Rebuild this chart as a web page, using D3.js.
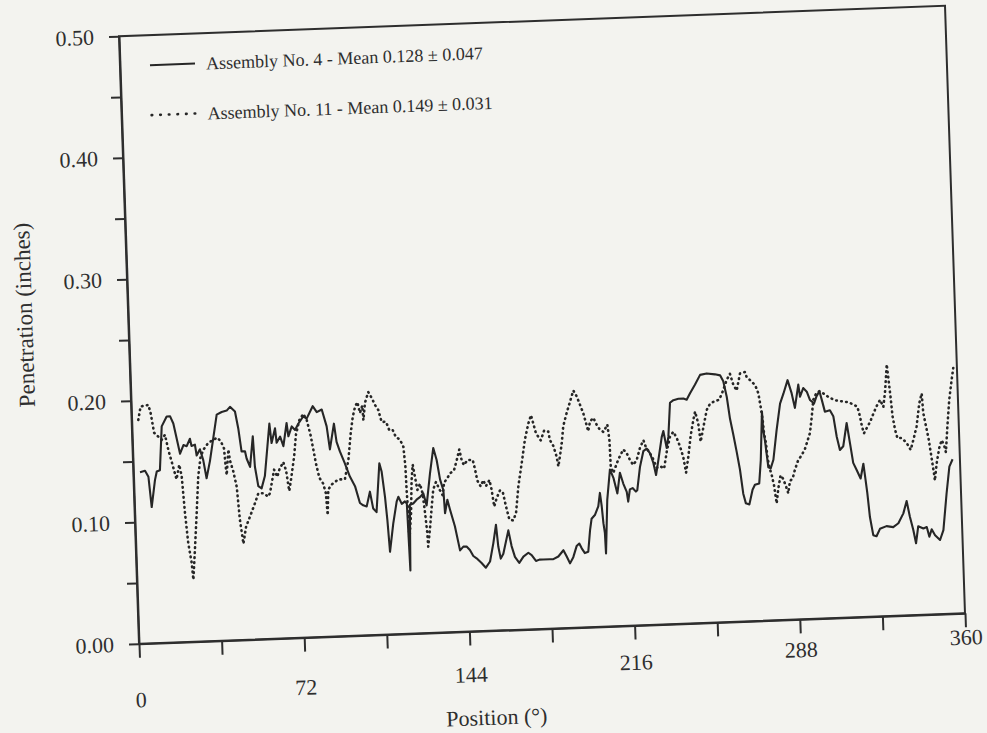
<!DOCTYPE html>
<html>
<head>
<meta charset="utf-8">
<script src="https://cdn.jsdelivr.net/npm/d3@7"></script>
<style>
  body { margin: 0; background: #f2f2ee; }
  svg { display: block; }
  text { font-family: "Liberation Serif", "Times New Roman", serif; fill: #2e2e2e; }
  .axis path, .axis line { stroke: #2e2e2e; stroke-width: 2; }
</style>
</head>
<body>
<script>
// Assembly No. 4 (solid line): position in degrees, penetration in inches
var pos4 = [2.9,5.1,6.5,7.5,9.3,10.2,11.6,13.0,15.3,16.8,18.1,19.3,20.6,22.2,23.6,25.1,25.7,27.2,27.8,29.3,
  30.6,31.8,33.5,35.3,37.1,39.3,41.5,43.0,45.1,46.3,47.4,48.9,49.5,50.9,52.5,53.0,54.2,55.6,57.2,59.9,
  60.6,62.3,62.8,64.4,65.7,67.4,68.0,69.6,71.0,72.5,74.8,76.2,79.0,80.7,82.9,84.8,85.9,88.0,88.9,90.2,
  92.2,92.9,94.2,96.3,98.2,99.6,101.1,102.7,103.9,105.3,107.2,108.1,109.2,109.9,110.6,112.4,114.2,115.0,116.4,117.8,
  118.6,119.2,119.9,121.4,122.9,124.4,125.9,127.2,129.1,130.9,132.2,133.4,134.7,135.1,136.3,137.3,139.2,141.1,142.6,144.0,
  145.4,146.8,148.2,150.3,152.1,154.0,155.7,157.1,157.8,158.7,159.9,162.4,163.6,164.9,166.7,168.6,170.8,172.2,174.0,175.5,
  177.2,180.1,181.6,183.8,186.1,187.4,188.8,190.3,191.9,193.1,194.1,195.4,196.9,198.0,198.8,200.3,201.9,202.8,203.4,203.9,
  204.4,204.6,205.9,207.5,208.9,210.4,211.8,213.1,214.5,215.0,215.9,217.1,218.5,219.1,220.6,222.3,223.8,225.2,226.5,227.5,
  228.7,230.5,231.3,232.5,233.4,234.6,236.1,238.3,240.5,241.9,243.4,245.7,248.1,251.0,254.6,256.8,258.1,259.4,260.5,261.7,
  262.9,264.1,265.2,266.2,267.7,269.3,270.4,272.3,273.3,274.5,274.8,275.4,276.5,277.5,278.8,280.6,282.5,284.1,286.1,287.7,
  288.9,290.7,291.3,292.8,294.3,295.6,297.3,298.5,299.8,300.7,301.9,304.1,305.5,306.7,307.9,309.4,311.2,312.4,313.5,314.9,
  316.5,317.9,318.4,319.2,320.0,321.2,322.6,324.2,327.1,330.0,332.3,334.6,336.2,337.4,338.7,339.7,340.9,343.1,344.6,345.6,
  346.7,348.1,350.2,351.8,353.7,355.3,356.8];
var pen4 = [.141,.142,.137,.112,.134,.141,.142,.178,.186,.186,.180,.168,.155,.162,.161,.167,.161,.162,.153,.158,
  .149,.134,.148,.167,.186,.188,.189,.192,.188,.174,.155,.155,.149,.142,.167,.142,.126,.124,.134,.177,
  .161,.173,.161,.166,.158,.177,.166,.174,.171,.176,.182,.180,.190,.185,.187,.173,.154,.175,.160,.152,
  .142,.138,.131,.123,.109,.107,.106,.118,.104,.101,.141,.134,.113,.094,.068,.091,.109,.113,.107,.109,
  .107,.052,.106,.107,.110,.112,.115,.105,.131,.152,.142,.126,.117,.098,.109,.101,.087,.067,.070,.070,
  .067,.062,.060,.056,.052,.057,.072,.087,.069,.059,.063,.082,.069,.060,.055,.060,.063,.061,.056,.057,
  .057,.057,.057,.059,.064,.059,.053,.058,.067,.069,.065,.061,.062,.080,.089,.092,.099,.110,.099,.085,
  .077,.060,.104,.129,.122,.109,.126,.117,.110,.102,.112,.113,.110,.111,.130,.143,.145,.141,.133,.123,
  .135,.154,.159,.145,.154,.182,.184,.185,.185,.184,.189,.196,.204,.205,.204,.203,.198,.185,.167,.154,
  .140,.125,.105,.097,.096,.108,.112,.113,.132,.172,.157,.148,.126,.125,.132,.156,.178,.186,.197,.186,
  .174,.193,.183,.190,.187,.180,.177,.183,.187,.180,.170,.171,.166,.149,.138,.141,.160,.143,.127,.121,
  .114,.126,.117,.102,.082,.067,.066,.072,.074,.073,.076,.084,.094,.081,.070,.059,.073,.071,.072,.064,
  .070,.065,.061,.069,.099,.121,.127];

// Assembly No. 11 (dotted line)
var pos11 = [2.9,4.1,7.5,8.4,9.6,12.8,14.3,15.6,16.8,18.7,20.1,21.0,21.9,22.9,24.1,24.6,25.8,27.0,28.2,29.5,
  31.0,33.0,35.0,37.0,38.5,39.8,40.3,40.6,41.7,42.2,43.5,44.8,45.7,46.9,48.3,50.1,52.5,54.1,56.3,58.4,
  59.2,61.3,62.6,63.6,65.4,66.5,67.6,68.5,70.2,71.3,73.0,74.8,76.2,77.7,78.7,79.6,80.9,82.5,83.5,84.0,
  84.6,86.1,89.1,92.0,92.9,93.8,95.2,96.3,97.4,98.5,99.5,100.6,100.9,101.8,103.4,104.8,106.2,107.5,108.8,110.7,
  112.0,113.5,114.8,116.5,117.9,118.5,118.7,119.1,119.2,120.3,121.0,121.7,122.5,123.4,124.6,125.6,126.4,127.1,127.3,128.4,
  129.4,130.3,131.6,133.2,134.3,135.1,136.6,138.1,139.6,140.9,142.2,143.1,144.0,145.6,147.9,148.8,149.6,151.0,152.2,153.3,
  154.9,155.7,156.6,157.8,159.3,160.5,161.7,163.0,164.7,166.0,167.4,169.2,170.9,172.6,173.9,174.8,175.8,177.8,179.4,181.2,
  181.8,183.2,184.5,185.1,185.9,186.9,187.8,189.5,191.1,192.7,194.1,195.4,196.7,198.0,198.6,199.5,201.0,202.4,203.7,205.2,
  207.0,207.7,207.9,208.9,211.3,213.6,215.0,216.4,217.7,219.3,220.9,222.5,223.5,224.9,226.3,227.9,229.6,231.1,232.5,234.1,
  235.6,237.0,238.3,239.6,240.6,241.8,243.1,244.5,245.4,246.6,247.4,248.8,250.5,252.0,254.2,256.1,258.0,259.6,261.1,262.4,
  263.8,265.5,267.7,268.3,271.9,273.2,274.0,274.7,275.1,275.8,276.2,276.9,277.8,278.7,279.6,280.5,281.7,282.8,284.2,284.8,
  285.7,286.9,288.0,289.6,291.2,292.7,294.0,295.1,296.1,297.0,298.3,299.8,301.5,303.6,306.5,309.3,312.2,314.4,316.1,317.1,
  317.8,318.6,319.8,321.4,323.0,324.5,326.1,327.4,328.4,329.5,330.2,330.7,331.3,332.2,333.1,334.9,337.0,338.7,340.0,341.6,
  343.1,344.3,344.7,345.7,346.7,347.6,348.5,348.8,349.8,351.2,352.3,353.3,354.0,355.0,356.2,357.5,358.4];
var pen11 = [.184,.195,.196,.189,.173,.167,.171,.158,.149,.134,.146,.136,.106,.081,.065,.051,.078,.106,.136,.152,
  .158,.163,.165,.167,.164,.158,.143,.136,.157,.148,.139,.126,.099,.079,.093,.101,.112,.120,.120,.117,
  .120,.139,.133,.139,.145,.138,.121,.130,.149,.167,.179,.184,.179,.166,.154,.143,.131,.126,.118,.100,
  .121,.125,.129,.129,.137,.145,.167,.180,.188,.192,.183,.189,.177,.191,.200,.195,.189,.185,.175,.175,
  .168,.168,.162,.160,.154,.138,.118,.099,.077,.099,.126,.139,.129,.118,.123,.115,.099,.082,.071,.087,
  .104,.118,.124,.117,.113,.123,.127,.131,.133,.141,.150,.141,.137,.141,.141,.133,.124,.119,.124,.119,
  .124,.116,.102,.109,.115,.114,.102,.091,.090,.096,.118,.137,.156,.169,.176,.169,.161,.155,.163,.162,
  .155,.150,.141,.133,.141,.152,.166,.177,.186,.195,.190,.183,.176,.166,.161,.169,.172,.166,.162,.160,
  .166,.153,.131,.126,.137,.145,.142,.136,.132,.136,.146,.152,.146,.142,.137,.129,.130,.128,.142,.154,
  .158,.153,.146,.137,.124,.137,.154,.167,.174,.164,.149,.161,.175,.180,.182,.183,.191,.199,.204,.195,
  .190,.204,.205,.201,.194,.187,.176,.165,.154,.146,.135,.126,.120,.111,.096,.108,.119,.116,.108,.104,
  .114,.116,.123,.131,.135,.140,.147,.153,.166,.180,.185,.187,.185,.182,.179,.178,.177,.175,.173,.165,
  .157,.151,.155,.160,.167,.173,.178,.172,.185,.207,.191,.180,.164,.153,.146,.146,.142,.136,.144,.155,
  .174,.182,.166,.155,.144,.130,.116,.110,.124,.137,.143,.139,.133,.154,.176,.192,.202];

var xTicks = [0, 36, 72, 108, 144, 180, 216, 252, 288, 324, 360];
var xLabels = [0, 72, 144, 216, 288, 360];
var yTicks = [0, 0.05, 0.10, 0.15, 0.20, 0.25, 0.30, 0.35, 0.40, 0.45, 0.50];
var yLabels = [0, 0.10, 0.20, 0.30, 0.40, 0.50];
var legendNames = ["Assembly No. 4 - Mean 0.128 \u00b1 0.047", "Assembly No. 11 - Mean 0.149 \u00b1 0.031"];

var series = [
  {name: legendNames[0], values: pos4.map(function(p, i) { return {pos: p, pen: pen4[i]}; }), dash: null},
  {name: legendNames[1], values: pos11.map(function(p, i) { return {pos: p, pen: pen11[i]}; }), dash: "0.6,4.4"}
];

var width = 826, height = 607.5;

var svg = d3.select("body").append("svg")
    .attr("width", 987)
    .attr("height", 733);

svg.append("rect").attr("width", 987).attr("height", 733).attr("fill", "#f3f3ef");

// the scanned page is a little tilted, so the whole chart sits in a sheared frame
var chart = svg.append("g")
    .attr("transform", "matrix(1,-0.0369,0.0329,1,119,36.25)");

var xScale = d3.scaleLinear().domain([0, 360]).range([0, width]);
var yScale = d3.scaleLinear().domain([0, 0.5]).range([height, 0]);

// frame
chart.append("rect")
    .attr("width", width)
    .attr("height", height)
    .attr("fill", "none")
    .attr("stroke", "#2e2e2e")
    .attr("stroke-width", 2);

// x axis
chart.append("g")
    .attr("class", "axis")
    .attr("transform", "translate(0," + height + ")")
    .call(d3.axisBottom(xScale)
      .tickValues(xTicks)
      .tickSizeInner(14)
      .tickSizeOuter(0)
      .tickFormat(function(d) { return xLabels.indexOf(d) >= 0 ? d : ""; }))
    .call(function(g) {
      // labels drift upward to the right on the scan
      g.selectAll("text")
        .style("font-size", "22px")
        .attr("y", function(d) { return 48 - 0.039 * xScale(d); });
    });

// y axis
chart.append("g")
    .attr("class", "axis")
    .call(d3.axisLeft(yScale)
      .tickValues(yTicks)
      .tickSizeInner(10)
      .tickSizeOuter(0)
      .tickPadding(15)
      .tickFormat(function(d) { return yLabels.indexOf(d) >= 0 ? d3.format(".2f")(d) : ""; }))
    .call(function(g) { g.selectAll("text").style("font-size", "22px"); });

// lines
var line = d3.line()
    .x(function(d) { return xScale(d.pos); })
    .y(function(d) { return yScale(d.pen); });

series.forEach(function(s) {
  chart.append("path")
    .datum(s.values)
    .attr("fill", "none")
    .attr("stroke", "#262626")
    .attr("stroke-width", s.dash ? 2.6 : 2.1)
    .attr("stroke-dasharray", s.dash)
    .attr("stroke-linecap", s.dash ? "round" : "butt")
    .attr("stroke-linejoin", "round")
    .attr("d", line);
});

// legend
var legend = chart.selectAll(".legend")
    .data(series)
  .enter().append("g")
    .attr("class", "legend")
    .attr("transform", function(d, i) { return "translate(30," + (30 + i * 50) + ")"; });

legend.append("line")
    .attr("x1", 0).attr("x2", 45)
    .attr("stroke", "#262626")
    .attr("stroke-width", function(d) { return d.dash ? 2.6 : 2; })
    .attr("stroke-linecap", function(d) { return d.dash ? "round" : "butt"; })
    .attr("stroke-dasharray", function(d) { return d.dash ? "0.6,8" : null; });

legend.append("text")
    .attr("x", 56)
    .attr("dy", "0.35em")
    .style("font-size", "18px")
    .text(function(d) { return d.name; });

// axis titles
chart.append("text")
    .attr("text-anchor", "middle")
    .attr("transform", "translate(355," + (height + 94) + ")")
    .style("font-size", "22px")
    .text("Position (\u00b0)");

chart.append("text")
    .attr("text-anchor", "middle")
    .attr("transform", "translate(-96,275)rotate(-90)")
    .style("font-size", "23px")
    .text("Penetration (inches)");
</script>
</body>
</html>
